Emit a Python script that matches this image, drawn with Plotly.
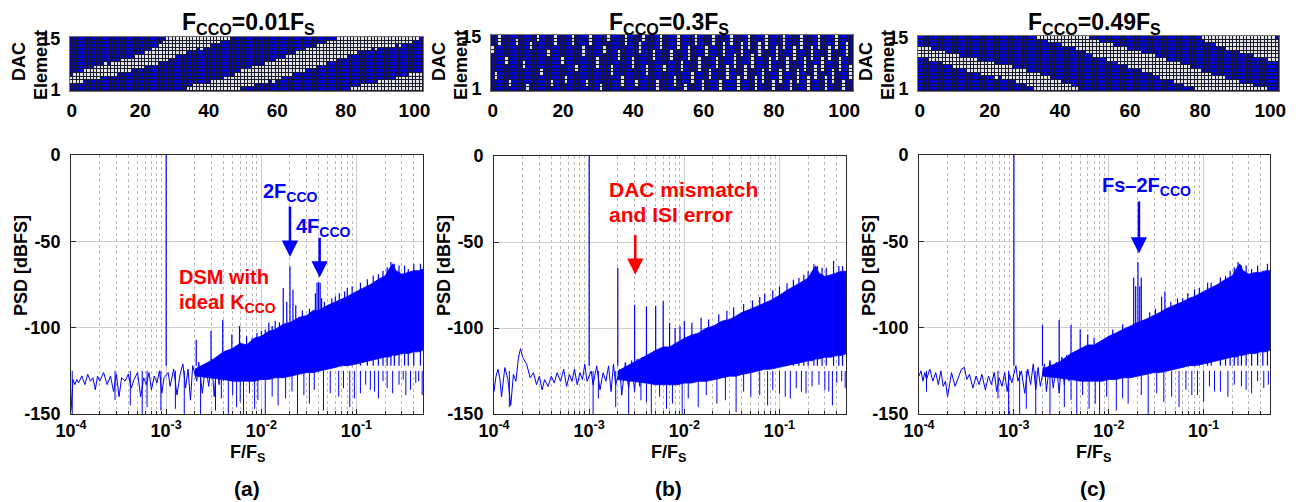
import numpy as np
import plotly.graph_objects as go

PAGE_W, PAGE_H = 1298, 502
OFF = 8                      # default page margin around the plot div
W, H = PAGE_W - OFF, PAGE_H - OFF
BLUE = "rgb(0,0,255)"
RED = "rgb(255,0,0)"
FONT = "Liberation Sans, Arial, sans-serif"

# ---------------- DAC element maps (gray band rows per column) ----------------
n_cols = 103
rows = list(range(1, 16))
cols = list(range(n_cols))

# panel (a): Fcco = 0.01Fs, gray rows lo..hi (wrapping modulo 15)
a_lo = [3,3,3,3, 4,4,4,4,4, 5,5,5,5,5, 6,6,6,6, 7,7,7,7, 8,8,8,8, 9,9,9, 10,10, 11,11,11,
        12,12,12, 13,12,13,13, 14,14,14, 15,15,15, 16,16,16, 17,17,17,17, 18,18,18,18,
        19,18,19,19, 20,20,20, 21,21,21,21, 22,22,22, 23,23,23, 24,24,24,25, 25,25,26,
        26,26,27,27,27, 27,28,27,28,28, 28,28,28,29,28, 29,29,29,30, 30,31]
a_hi = [4,5,5,5, 6,6,6,7,7, 7,8,7,8,8, 8,9,9,9, 9,10,10,10, 11,11,12,12, 13,14,15, 15,15,
        15,15,15, 16,16,17, 17,17,17,17, 18,18,18, 18,19,19, 19,20,20, 21,21,21,22,
        22,22,22,23, 23,23,24,24, 24,25,25, 25,26,26,26, 27,27,27, 28,28,28, 29,29,29,30,
        30,30,30, 31,31,31,32,32, 32,32,32,33,33, 33,33,33,34,34, 34,34,35,35, 35,35]

# panel (b): Fcco = 0.3Fs (None = no gray cell in that column)
b_lo = [11,4,13,None,8,2,None,13,None,7, 1,12,None,14,5,None,10,2,13,None,
        8,3,None,13,6,None,10,2,13,None, 7,1,11,14,5,None,9,2,13,None,
        7,2,11,14,5,None,9,1,12,6, None,9,2,12,6,1,9,3,13,6,
        1,10,4,13,7,1,10,4,13,7, 1,10,4,12,7,1,10,3,12,6,
        1,9,3,12,6,1,9,3,12,6, 1,9,4,12,6,1,9,3,12,6, 1,10,4]
b_hi = [12,5,15,None,9,3,None,14,None,8, 2,13,None,15,6,None,11,3,15,None,
        9,4,None,15,7,None,12,3,15,None, 9,2,12,15,7,None,11,4,15,None,
        9,3,13,15,7,None,11,3,15,7, None,11,4,15,8,2,12,5,15,9,
        3,12,6,15,9,3,13,7,15,10, 4,13,7,15,10,4,13,6,15,9,
        3,12,6,15,9,3,12,6,15,9, 4,12,7,15,9,4,12,6,15,9, 3,13,7]

# panel (c): Fcco = 0.49Fs, descending band (values <= 0 wrap to the top rows)
c_lo = [10,10,10,9,9, 9,9,8,8,8, 7,7,7,7,6, 6,6,6,5,5, 5,5,4,5,4, 4,4,4,3,3,
        3,2,2,1,0, 0,0,-1,-1,-1, -1,-2,-2,-2,-2, -3,-3,-3,-4,-4, -5,-5,-5,-5,-6,
        -6,-6,-7,-7,-7, -8,-8,-8,-8,-9, -9,-9,-10,-10,-11, -11,-11,-11,-12,-12,
        -12,-13,-13,-13,-14, -14,-15,-16,-16,-16, -17,-17,-17,-18,-18,
        -18,-18,-19,-19,-19, -19,-20,-20,-20,-20, -21,-21,-21]
c_hi = [12,12,12,12,11, 11,11,11,10,10, 10,10,9,9,9, 9,9,8,8,8, 8,8,7,7,7, 7,7,6,6,6,
        6,5,5,5,5, 4,4,4,3,3, 3,2,2,2,1, 1,0,0,0,-1, -1,-1,-2,-2,-2,
        -2,-3,-3,-3,-3, -4,-4,-4,-4,-5, -5,-5,-5,-6,-6, -6,-7,-7,-7,-7,
        -8,-8,-8,-9,-9, -9,-10,-10,-10,-11, -11,-11,-11,-12,-12,
        -12,-12,-13,-13,-13, -13,-14,-14,-14,-14, -15,-15,-16]

# ---------------- PSD spectra ----------------
# low-frequency noise trace (shared frequency grid)
lf_f = [1e-4, 1.05e-4, 1.1e-4, 1.15e-4, 1.2e-4, 1.3e-4, 1.4e-4, 1.5e-4, 1.6e-4, 1.7e-4,
        1.8e-4, 1.9e-4, 2e-4, 2.2e-4, 2.4e-4, 2.6e-4, 2.8e-4, 3e-4, 3.2e-4, 3.4e-4,
        3.7e-4, 4e-4, 4.3e-4, 4.6e-4, 5e-4, 5.4e-4, 5.8e-4, 6.2e-4, 6.6e-4, 7e-4,
        7.5e-4, 8e-4, 8.5e-4, 9e-4, 9.5e-4, 1.05e-3, 1.1e-3, 1.2e-3, 1.3e-3, 1.4e-3,
        1.5e-3, 1.6e-3, 1.7e-3, 1.8e-3, 1.9e-3, 2.1e-3, 2.2e-3, 2.4e-3, 2.6e-3, 2.8e-3,
        3e-3, 3.2e-3, 3.4e-3, 3.6e-3, 3.8e-3, 4e-3]
a_lf_db = [-148,-130,-133,-130,-132, -128,-133,-127,-131,-129, -136,-128,-131,-126,-133,
           -128,-137,-127,-140,-129, -131,-127,-135,-130,-126, -140,-129,-133,-126,-136,
           -128,-132,-125,-138,-129, -126,-134,-124,-139,-127, -121,-135,-124,-142,-122,
           -131,-120,-138,-121,-134, -118,-140,-119,-133,-117, -131]
b_lf_db = [-137,-128,-124,-129,-140, -123,-130,-145,-127,-131, -118,-112,-117,-121,-129,
           -126,-133,-128,-136,-130, -134,-128,-132,-126,-131, -124,-134,-127,-131,-124,
           -133,-126,-130,-121,-131, -125,-133,-122,-136,-126, -131,-122,-137,-121,-133,
           -124,-139,-120,-135,-119, -137,-118,-134,-117,-132, -120]
c_lf_db = [-128,-125,-131,-126,-130, -124,-131,-126,-133,-125, -134,-131,-140,-126,-134,
           -129,-124,-123,-130,-127, -135,-128,-133,-127,-136, -128,-133,-126,-137,-129,
           -134,-126,-137,-127,-132, -122,-131,-125,-138,-124, -133,-121,-136,-123,-134,
           -121,-137,-119,-135,-120, -138,-117,-133,-116,-131, -118]

# dense shaped-noise band: upper / lower envelope
env_f = [2e-3, 3e-3, 4e-3, 5e-3, 6e-3, 7e-3, 8.5e-3, 1e-2, 1.2e-2, 1.4e-2, 1.7e-2,
         2e-2, 2.5e-2, 3e-2, 3.5e-2, 4e-2, 5e-2, 6e-2, 7e-2, 8e-2, 0.1,
         0.12, 0.14, 0.17, 0.2, 0.22, 0.24, 0.26, 0.3, 0.35, 0.4, 0.45, 0.5]
a_up = [-124, -119,-114,-112,-109,-110, -106,-105,-102,-101,-98, -97,-94,-93,-90,-90,
        -87,-85,-83,-82,-79, -77,-75,-72,-70,-66, -63,-67,-69,-68,-67, -67,-66]
a_low = [-128, -129,-130,-131,-131,-131, -131,-130,-130,-129,-129, -128,-127,-126,-126,-125,
         -124,-123,-122,-122,-121, -120,-119,-118,-117,-117, -116,-116,-115,-115,-114, -114,-113]
b_up = [-125, -120,-116,-113,-111,-111, -108,-106,-104,-103,-100, -99,-96,-95,-93,-91,
        -89,-87,-85,-84,-81, -78,-76,-73,-71,-67, -64,-68,-70,-69,-68, -67,-67]
b_low = [-130, -131,-132,-133,-133,-133, -133,-132,-132,-131,-131, -130,-129,-128,-128,-127,
         -126,-125,-124,-124,-123, -122,-121,-120,-119,-119, -118,-118,-117,-117,-116, -116,-115]
c_up = [-124, -120,-115,-112,-110,-110, -107,-105,-103,-101,-99, -97,-95,-93,-91,-89,
        -87,-85,-83,-82,-79, -77,-75,-72,-70,-66, -63,-67,-69,-68,-68, -67,-67]
c_low = [-128, -129,-130,-131,-131,-131, -131,-130,-130,-129,-129, -128,-127,-126,-126,-125,
         -124,-123,-122,-122,-121, -120,-119,-118,-117,-117, -116,-116,-115,-115,-114, -114,-113]

# spurs / upward spikes (peak level); first entry is the 1e-3 tone
a_spk_f = [1e-3, 2.07e-3, 2.96e-3, 3.93e-3, 4.9e-3, 5.9e-3, 7e-3, 8e-3, 9e-3, 1e-2,
           1.2e-2, 1.4e-2, 1.55e-2, 1.7e-2, 1.85e-2, 2e-2, 2.15e-2, 2.3e-2, 3.7e-2, 3.85e-2,
           4e-2, 4.15e-2, 4.3e-2, 6e-2, 8e-2, 0.13, 0.17, 0.23, 0.25, 0.35,
           1.1e-2, 1.3e-2, 2.7e-2, 3.2e-2, 4.6e-2, 5.5e-2, 6.6e-2, 7.5e-2, 9e-2, 0.11,
           0.15, 0.19, 0.21, 0.28, 0.32, 0.4, 0.47]
a_spk_db = [0,-107,-102,-95.5,-104, -99,-105,-106,-103,-102, -97,-96,-97,-77,-85,
            -64.5,-78,-87,-80,-74, -73.5,-74,-83,-82,-77, -72,-69,-62,-63,-66,
            -101,-99,-90,-89,-85, -83,-80,-79,-76,-74, -70,-67,-65,-64,-64, -63,-63]
b_spk_f = [1e-3, 2e-3, 3e-3, 4e-3, 5e-3, 6e-3, 7e-3, 8e-3, 9e-3, 1e-2,
           1.2e-2, 1.5e-2, 7e-2, 0.1, 0.14, 0.2, 0.23, 0.25, 0.37, 0.42,
           1.8e-2, 2.3e-2, 2.8e-2, 3.3e-2, 4.2e-2, 5.2e-2, 6.2e-2, 8.5e-2, 0.12, 0.16,
           0.18, 0.28, 0.31, 0.46]
b_spk_db = [0,-65,-86.5,-87.5,-87, -84.5,-97,-100,-99,-96, -97,-94,-80,-76,-72, -67,-63,-64,-61,-64,
            -95,-92,-90,-88,-86, -84,-82,-78,-74,-71, -69,-65,-65,-64]
c_spk_f = [1e-3, 2e-3, 3e-3, 4e-3, 5e-3, 6e-3, 7e-3, 1.83e-2, 1.92e-2, 2.03e-2,
           2.12e-2, 2.2e-2, 3.6e-2, 3.9e-2, 6e-2, 8e-2, 0.12, 0.17, 0.23, 0.25, 0.32, 0.42,
           1.1e-2, 1.4e-2, 2.7e-2, 3.1e-2, 4.5e-2, 5.3e-2, 6.8e-2, 9e-2, 0.11, 0.15,
           0.19, 0.21, 0.28, 0.37, 0.47]
c_spk_db = [0,-98.5,-95.5,-98.5,-101, -104,-106,-71,-76,-62, -76,-71,-82,-79,-83,
            -78,-74,-70,-62,-64, -66,-67,
            -101,-98,-91,-89,-85, -83,-80,-77,-74,-71, -67,-65,-64,-64,-63]

# downward noise dips (lowest level)
a_dip_f = [1.03e-4, 2.9e-4, 4.2e-4, 5.6e-4, 6.3e-4, 8.8e-4, 1.25e-3, 1.55e-3, 2.3e-3, 3.3e-3,
           4.5e-3, 5.5e-3, 6.5e-3, 8.5e-3, 1.1e-2, 1.5e-2, 2.4e-2, 3.2e-2, 4.5e-2, 6.5e-2,
           8.5e-2, 0.11, 0.14, 0.17, 0.21, 0.28, 0.33, 0.42, 0.49,
           3.8e-3, 5e-3, 6e-3, 7.5e-3, 9.2e-3, 1.3e-2, 1.8e-2, 2.1e-2, 2.8e-2, 3.6e-2,
           5.3e-2, 7.3e-2, 9.5e-2, 0.125, 0.155, 0.19, 0.24, 0.31, 0.37, 0.45]
a_dip_db = [-150,-142,-145,-150,-146, -148,-147,-150,-150,-148, -150,-146,-150,-147,-150,
            -145,-150,-144,-148,-140, -146,-138,-136,-141,-135, -133,-139,-132,-139,
            -141,-139,-143,-138,-142, -140,-141,-137,-139,-136, -138,-135,-141,-133,-137,
            -131,-138,-130,-136,-131]
b_dip_f = [1.45e-4, 1.1e-3, 1.25e-3, 1.9e-3, 2.6e-3, 3.5e-3, 4.5e-3, 6.5e-3, 9.5e-3, 1.4e-2,
           2.2e-2, 3.5e-2, 5e-2, 7.5e-2, 0.1, 0.13, 0.17, 0.22, 0.3, 0.36, 0.45,
           4e-3, 5.5e-3, 7.5e-3, 1.1e-2, 1.7e-2, 2.7e-2, 4.2e-2, 6.2e-2, 8.5e-2, 0.115,
           0.15, 0.19, 0.26, 0.33, 0.4, 0.49]
b_dip_db = [-146,-150,-141,-146,-150, -142,-150,-147,-150,-146, -144,-149,-140,-145,-138,
            -141,-137,-134,-136,-145, -131,
            -143,-140,-144,-141,-139, -142,-137,-139,-136,-140, -135,-138,-133,-137,-132,-135]
c_dip_f = [1.2e-4, 6.8e-4, 8.8e-4, 1.15e-3, 1.35e-3, 1.7e-3, 2.4e-3, 3.4e-3, 4.6e-3, 6.2e-3,
           8e-3, 1.2e-2, 1.6e-2, 2.6e-2, 3.8e-2, 5.5e-2, 7.5e-2, 0.1, 0.13, 0.18, 0.25, 0.32, 0.48,
           4e-3, 5.3e-3, 7.2e-3, 9.5e-3, 1.4e-2, 2.2e-2, 3.2e-2, 4.6e-2, 6.5e-2, 8.6e-2,
           0.115, 0.15, 0.21, 0.28, 0.37, 0.43]
c_dip_db = [-137,-141,-150,-150,-147, -150,-150,-146,-150,-147, -150,-148,-144,-150,-143,
            -146,-139,-143,-137,-140, -134,-138,-133,
            -142,-139,-144,-140,-141, -139,-138,-140,-136,-139, -134,-137,-133,-136,-131,-135]

titles = ["F<sub>CCO</sub>=0.01F<sub>S</sub>", "F<sub>CCO</sub>=0.3F<sub>S</sub>",
          "F<sub>CCO</sub>=0.49F<sub>S</sub>"]
captions = ["(a)", "(b)", "(c)"]


def build_map(lo, hi):
    z = np.zeros((15, n_cols))
    for c, (l, h) in enumerate(zip(lo, hi)):
        if l is None:
            continue
        for r in range(l, h + 1):
            z[(r - 1) % 15, c] = 1
    return z


def segments(fs, vals, base):
    xs, ys = [], []
    for f, v in zip(fs, vals):
        xs += [f, f, None]
        ys += [base, v, None]
    return xs, ys


def axn(n):
    return ("x" if n == 1 else f"x{n}"), ("y" if n == 1 else f"y{n}")


def axkey(n):
    return ("xaxis" if n == 1 else f"xaxis{n}"), ("yaxis" if n == 1 else f"yaxis{n}")


fig = go.Figure()

# page-pixel boxes of the axes (left, right, top, bottom)
hm_box = [(70, 423, 37, 91), (491, 853, 35, 91), (918, 1279, 36, 91)]
sp_box = [(71, 423, 155, 414), (494, 846, 156, 414), (919, 1270, 155, 414)]
centers = [248, 669, 1094]

maps = [build_map(a_lo, a_hi), build_map(b_lo, b_hi), build_map(c_lo, c_hi)]
spectra = [
    (a_lf_db, a_up, a_low, a_spk_f, a_spk_db, a_dip_f, a_dip_db),
    (b_lf_db, b_up, b_low, b_spk_f, b_spk_db, b_dip_f, b_dip_db),
    (c_lf_db, c_up, c_low, c_spk_f, c_spk_db, c_dip_f, c_dip_db),
]

layout_axes = {}
shapes = []
minor_vals = [m * 10.0 ** d for d in range(-4, 0) for m in range(2, 10) if m * 10.0 ** d < 0.5]


def px_x(a):
    return (a - OFF) / W


def px_y(a):
    return 1 - (a - OFF) / H


def px_dom_x(a, b):
    return [px_x(a), px_x(b)]


def px_dom_y(top, bot):
    return [px_y(bot), px_y(top)]


for i in range(3):
    hx, hy = axn(i + 1)
    sx, sy = axn(i + 4)
    hxk, hyk = axkey(i + 1)
    sxk, syk = axkey(i + 4)
    # heatmap
    fig.add_trace(go.Heatmap(
        z=maps[i], x=cols, y=rows, xaxis=hx, yaxis=hy,
        colorscale=[[0, "rgb(0,0,210)"], [1, "rgb(228,228,228)"]],
        zmin=0, zmax=1, showscale=False, xgap=1, ygap=1, hoverinfo="skip"))
    shapes.append(dict(type="rect", xref=f"{hx} domain", yref=f"{hy} domain",
                       x0=0, x1=1, y0=0, y1=1, fillcolor="rgb(25,25,45)",
                       line=dict(width=0), layer="below"))
    x0, x1, t, b = hm_box[i]
    layout_axes[hxk] = dict(
        domain=px_dom_x(x0, x1), anchor=hy, range=[-0.5, 102.5], automargin=False,
        tickvals=[0, 20, 40, 60, 80, 100], showgrid=False, zeroline=False,
        showline=True, mirror=True, linecolor="rgb(110,110,110)", linewidth=1,
        ticks="", ticklabelstandoff=2,
        tickfont=dict(family=FONT, size=19, color="black", weight="bold"))
    layout_axes[hyk] = dict(
        domain=px_dom_y(t, b), anchor=hx, range=[0.5, 15.5], tickvals=[1, 15],
        automargin=False, showgrid=False, zeroline=False, showline=True, mirror=True,
        linecolor="rgb(110,110,110)", linewidth=1, ticks="", ticklabelstandoff=5,
        tickfont=dict(family=FONT, size=18, color="black", weight="bold"))

    # spectrum
    lf_db, up, low, spk_f, spk_db, dip_f, dip_db = spectra[i]
    fig.add_trace(go.Scatter(
        x=env_f + env_f[::-1], y=up + low[::-1], xaxis=sx, yaxis=sy,
        fill="toself", fillcolor=BLUE, mode="lines",
        line=dict(color=BLUE, width=0.8), hoverinfo="skip", showlegend=False))
    fig.add_trace(go.Scatter(
        x=lf_f, y=lf_db, xaxis=sx, yaxis=sy, mode="lines",
        line=dict(color=BLUE, width=1), hoverinfo="skip", showlegend=False))
    dx, dy = segments(dip_f, dip_db, -125)
    fig.add_trace(go.Scatter(
        x=dx, y=dy, xaxis=sx, yaxis=sy, mode="lines",
        line=dict(color=BLUE, width=1), hoverinfo="skip", showlegend=False))
    ux, uy = segments(spk_f, spk_db, -122)
    fig.add_trace(go.Scatter(
        x=ux, y=uy, xaxis=sx, yaxis=sy, mode="lines",
        line=dict(color=BLUE, width=1.2), hoverinfo="skip", showlegend=False))

    x0, x1, t, b = sp_box[i]
    layout_axes[sxk] = dict(
        domain=px_dom_x(x0, x1), anchor=sy, type="log", automargin=False,
        range=[-4, float(np.log10(0.5))],
        tickvals=[1e-4, 1e-3, 1e-2, 1e-1],
        ticktext=["10<sup>-4</sup>", "10<sup>-3</sup>", "10<sup>-2</sup>", "10<sup>-1</sup>"],
        showgrid=True, gridcolor="rgb(205,205,205)", gridwidth=1,
        ticks="inside", ticklen=5, tickcolor="rgb(40,40,40)",
        minor=dict(tickvals=minor_vals, showgrid=True, gridcolor="rgb(185,185,185)",
                   griddash="dot", gridwidth=1, ticks="inside", ticklen=3,
                   tickcolor="rgb(40,40,40)"),
        zeroline=False, showline=True, mirror=True, linecolor="rgb(40,40,40)", linewidth=1,
        tickfont=dict(family=FONT, size=18, color="black", weight="bold"))
    layout_axes[syk] = dict(
        domain=px_dom_y(t, b), anchor=sx, range=[-150, 0], automargin=False,
        tickvals=[-150, -100, -50, 0], ticktext=["-150", "-100", "-50", "0"],
        showgrid=True, gridcolor="rgb(205,205,205)", gridwidth=1,
        ticks="inside", ticklen=5, tickcolor="rgb(40,40,40)", zeroline=False,
        showline=True, mirror=True, linecolor="rgb(40,40,40)", linewidth=1,
        ticklabelstandoff=6,
        tickfont=dict(family=FONT, size=18, color="black", weight="bold"))

annotations = []


def paper_text(text, x, y, size, angle=0, color="black", xanchor="center", yanchor="middle"):
    annotations.append(dict(text=f"<b>{text}</b>", x=px_x(x), y=px_y(y), xref="paper",
                            yref="paper", showarrow=False, textangle=angle,
                            xanchor=xanchor, yanchor=yanchor,
                            font=dict(family=FONT, size=size, color=color)))


for i in range(3):
    paper_text(titles[i], centers[i], 23, 23)
    paper_text("F/F<sub>S</sub>", centers[i] - 1, 453, 18)
    paper_text(captions[i], centers[i] - 1, 488, 21)

for dac_x, el_x in [(19, 41), (439, 461), (866, 888)]:
    paper_text("DAC", dac_x, 62, 18, angle=-90)
    paper_text("Element", el_x, 65, 18, angle=-90)
for px in [21, 444, 869]:
    paper_text("PSD [dBFS]", px, 266, 18, angle=-90)


def data_text(text, n, f, y, color, xanchor="center", size=20):
    xr, yr = axn(n)
    annotations.append(dict(text=f"<b>{text}</b>", x=float(np.log10(f)), y=y,
                            xref=xr, yref=yr, showarrow=False,
                            xanchor=xanchor, yanchor="middle",
                            font=dict(family=FONT, size=size, color=color)))


def arrow(n, f, y_tip, y_tail, color):
    xr, yr = axn(n)
    lf = float(np.log10(f))
    annotations.append(dict(text="", x=lf, y=y_tip, ax=lf, ay=y_tail,
                            xref=xr, yref=yr, axref=xr, ayref=yr,
                            showarrow=True, arrowhead=2, arrowsize=1.3,
                            arrowwidth=2.5, arrowcolor=color, standoff=0))


# panel (a)
data_text("2F<sub>CCO</sub>", 4, 0.0204, -22, BLUE)
arrow(4, 0.02, -59, -29, BLUE)
data_text("4F<sub>CCO</sub>", 4, 0.0455, -42, BLUE)
arrow(4, 0.041, -71, -47, BLUE)
data_text("DSM with", 4, 1.31e-3, -70.5, RED, xanchor="left")
data_text("ideal K<sub>CCO</sub>", 4, 1.31e-3, -86, RED, xanchor="left")
# panel (b)
data_text("DAC mismatch", 5, 1.55e-3, -19.5, RED, xanchor="left", size=21)
data_text("and ISI error", 5, 1.55e-3, -34, RED, xanchor="left", size=21)
arrow(5, 3.05e-3, -69, -45, RED)
# panel (c)
data_text("Fs\u20132F<sub>CCO</sub>", 6, 0.0252, -18.5, BLUE)
arrow(6, 0.0208, -57, -26, BLUE)

fig.update_layout(
    width=W, height=H, autosize=False,
    margin=dict(l=0, r=0, t=0, b=0, autoexpand=False),
    paper_bgcolor="white", plot_bgcolor="white",
    showlegend=False, shapes=shapes, annotations=annotations,
    font=dict(family=FONT, color="black"),
    **layout_axes)

fig.write_html("out.html")
